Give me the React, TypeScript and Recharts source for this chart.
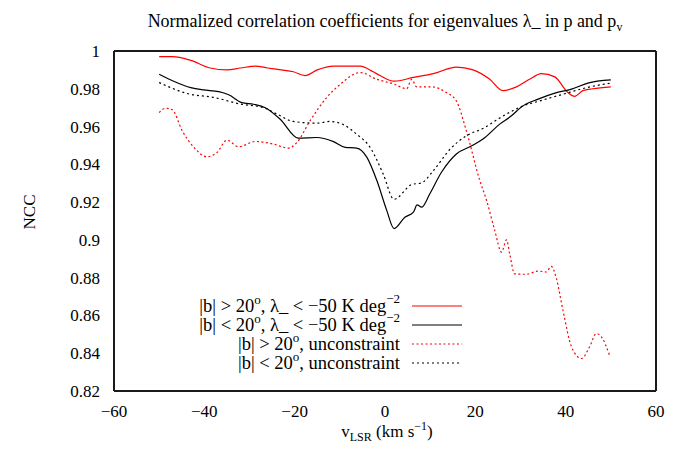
import { LineChart, Line, XAxis, YAxis } from 'recharts';

// velocity (km/s) vs normalized correlation coefficient
const highLatConstrained: [number, number][] = [
  [-50, 0.997], [-47, 0.997], [-43, 0.995], [-38.7, 0.991], [-35, 0.990],
  [-32, 0.991], [-28.7, 0.992], [-26, 0.991], [-23, 0.990], [-20.3, 0.989],
  [-17.7, 0.987], [-15, 0.990], [-11.4, 0.992], [-8.5, 0.992], [-5.5, 0.992],
  [-2.6, 0.989], [-1.1, 0.987], [2, 0.984], [6.3, 0.986], [10.7, 0.988],
  [15.8, 0.9915], [19.5, 0.990], [23.2, 0.985], [26.1, 0.979], [29.1, 0.981],
  [32, 0.985], [34.6, 0.988], [37.6, 0.9863], [40.5, 0.978], [42, 0.976],
  [43.8, 0.979], [46, 0.980], [50, 0.981],
];

const lowLatConstrained: [number, number][] = [
  [-50, 0.9877], [-46.8, 0.984], [-43, 0.9806], [-40.2, 0.9794], [-36.8, 0.9785],
  [-34.6, 0.9768], [-31.7, 0.9727], [-29.1, 0.9718], [-26.5, 0.970], [-23.2, 0.9639],
  [-19.2, 0.9539], [-15.1, 0.9542], [-11.4, 0.952], [-8.8, 0.949], [-6.3, 0.9486],
  [-4, 0.9437], [-1.8, 0.9314], [0.4, 0.9155], [2, 0.906], [4.4, 0.912],
  [6.3, 0.9147], [7.1, 0.9185], [8.1, 0.9173], [9.9, 0.9243], [12.5, 0.9358],
  [15.8, 0.9455], [19.2, 0.9498], [21.7, 0.9534], [25.4, 0.9613], [28, 0.9657],
  [30.2, 0.9704], [33.9, 0.9745], [37.6, 0.9777], [41.3, 0.9798], [44.9, 0.983],
  [50, 0.9847],
];

const highLatFree: [number, number][] = [
  [-50, 0.9674], [-48.6, 0.9697], [-47.1, 0.9689], [-44.9, 0.9578], [-42.3, 0.949],
  [-39.4, 0.944], [-37.2, 0.9463], [-35, 0.9528], [-32.4, 0.9493], [-28.7, 0.9521],
  [-24.7, 0.9507], [-21.4, 0.9486], [-19.5, 0.9516], [-16.6, 0.963], [-12.9, 0.9754],
  [-9.9, 0.9824], [-5.5, 0.9886], [-1.8, 0.985], [2, 0.9825], [4.8, 0.980],
  [5.9, 0.985], [7, 0.981], [10.3, 0.981], [13.6, 0.978], [15.8, 0.9736],
  [18, 0.9578], [21, 0.9314], [22.5, 0.9208], [24.3, 0.905], [25.8, 0.8935],
  [26.9, 0.900], [27.6, 0.8927], [28.7, 0.882], [31.3, 0.8818], [33.9, 0.8835],
  [35.7, 0.883], [36.8, 0.886], [37.9, 0.880], [39.4, 0.8627], [41.3, 0.8434],
  [43.5, 0.8372], [45.3, 0.8434], [46.8, 0.8504], [47.9, 0.8487], [49.7, 0.839],
];

const lowLatFree: [number, number][] = [
  [-50, 0.9833], [-43.8, 0.9775], [-37.9, 0.9754], [-32, 0.9719], [-26.9, 0.970],
  [-23.9, 0.9666], [-20.3, 0.9627], [-15.1, 0.9618], [-12.2, 0.9627], [-9.2, 0.961],
  [-6.3, 0.956], [-3.3, 0.949], [-0.4, 0.9349], [2, 0.9215], [5.9, 0.9293],
  [8.1, 0.9302], [10.7, 0.9366], [14.4, 0.948], [18, 0.9551], [21.7, 0.959],
  [25.4, 0.9645], [30.2, 0.9706], [34.3, 0.9736], [39.4, 0.9771], [44.6, 0.9806],
  [50, 0.983],
];

const xTicks = [-60, -40, -20, 0, 20, 40, 60];
const yTicks = [0.82, 0.84, 0.86, 0.88, 0.9, 0.92, 0.94, 0.96, 0.98, 1];

const W = 681;
const H = 450;
const LEFT = 114;
const RIGHT = 656;
const TOP = 51;
const BOTTOM = 391;
const SERIF = 'Liberation Serif';

const toRows = (pts: [number, number][]) => pts.map(([v, ncc]) => ({ v, ncc }));

const fmtX = (v: number) => (v < 0 ? `\u2212${-v}` : `${v}`);
const fmtY = (v: number) => String(Number(v.toFixed(2)));

const labelStyle = { fill: '#000', fontFamily: SERIF, fontSize: 17 };
const frame = { stroke: '#1a1a1a', strokeWidth: 2 };
const tickMark = { stroke: '#1a1a1a', strokeWidth: 1.6 };

const legendRows = [
  { sign: '>', tail: 'lambda', color: '#ff0000', dash: undefined },
  { sign: '<', tail: 'lambda', color: '#000000', dash: undefined },
  { sign: '>', tail: 'free', color: '#ff0000', dash: '2 2.5' },
  { sign: '<', tail: 'free', color: '#000000', dash: '2 3' },
];

function Overlay() {
  return (
    <svg width={W} height={H} style={{ position: 'absolute', left: 0, top: 0, pointerEvents: 'none' }}>
      <text x={385} y={27} textAnchor="middle" fontFamily={SERIF} fontSize={18} fill="#000">
        Normalized correlation coefficients for eigenvalues {'\u03bb'}_ in p and p
        <tspan dy={4} fontSize={12}>v</tspan>
      </text>
      <text x={35} y={212} textAnchor="middle" fontFamily={SERIF} fontSize={17} fill="#000" transform="rotate(-90 35 212)">
        NCC
      </text>
      <text x={387} y={437} textAnchor="middle" fontFamily={SERIF} fontSize={17} fill="#000">
        v<tspan dy={4} fontSize={12}>LSR</tspan>
        <tspan dy={-4}> (km s</tspan>
        <tspan dy={-7} fontSize={12}>{'\u22121'}</tspan>
        <tspan dy={7}>)</tspan>
      </text>
      {legendRows.map((r, i) => {
        const cy = 306 + i * 19;
        return (
          <g key={i}>
            <text x={400} y={cy + 6} textAnchor="end" fontFamily={SERIF} fontSize={18.5} fill="#000">
              |b| {r.sign} 20<tspan dy={-8} fontSize={13}>o</tspan>
              {r.tail === 'lambda' ? (
                <>
                  <tspan dy={8}>, {'\u03bb'}_ &lt; {'\u2212'}50 K deg</tspan>
                  <tspan dy={-9} fontSize={13}>{'\u22122'}</tspan>
                </>
              ) : (
                <tspan dy={8}>, unconstraint</tspan>
              )}
            </text>
            <line x1={412} x2={462} y1={cy} y2={cy} stroke={r.color} strokeWidth={1.2} strokeDasharray={r.dash} />
          </g>
        );
      })}
    </svg>
  );
}

export default function App() {
  return (
    <div style={{ position: 'absolute', left: 0, top: 0, width: W, height: H, background: '#fff' }}>
      <LineChart width={W} height={H} margin={{ top: TOP, right: W - RIGHT, bottom: H - BOTTOM - 30, left: 0 }}>
        {/* labelled bottom / left axes */}
        <XAxis
          xAxisId="bottom"
          dataKey="v"
          type="number"
          orientation="bottom"
          domain={[-60, 60]}
          ticks={xTicks}
          height={30}
          tickSize={6}
          tickMargin={8}
          axisLine={frame}
          tickLine={false}
          tick={labelStyle}
          tickFormatter={fmtX}
          allowDataOverflow
        />
        <YAxis
          yAxisId="left"
          dataKey="ncc"
          type="number"
          orientation="left"
          domain={[0.82, 1]}
          ticks={yTicks}
          width={LEFT}
          tickSize={6}
          tickMargin={8}
          axisLine={frame}
          tickLine={false}
          tick={labelStyle}
          tickFormatter={fmtY}
          allowDataOverflow
        />
        {/* inward tick marks on all four sides */}
        <XAxis xAxisId="bottomIn" dataKey="v" type="number" orientation="bottom" domain={[-60, 60]} ticks={xTicks}
          mirror tickSize={6} axisLine={frame} tickLine={tickMark} tick={false} allowDataOverflow />
        <XAxis xAxisId="top" dataKey="v" type="number" orientation="top" domain={[-60, 60]} ticks={xTicks}
          mirror tickSize={6} axisLine={frame} tickLine={tickMark} tick={false} allowDataOverflow />
        <YAxis yAxisId="leftIn" dataKey="ncc" type="number" orientation="left" domain={[0.82, 1]} ticks={yTicks}
          mirror tickSize={6} axisLine={frame} tickLine={tickMark} tick={false} allowDataOverflow />
        <YAxis yAxisId="right" dataKey="ncc" type="number" orientation="right" domain={[0.82, 1]} ticks={yTicks}
          mirror tickSize={6} axisLine={frame} tickLine={tickMark} tick={false} allowDataOverflow />
        <Line xAxisId="bottom" yAxisId="left" data={toRows(highLatConstrained)} dataKey="ncc" type="monotone" stroke="#ff0000" strokeWidth={1.2} dot={false} isAnimationActive={false} />
        <Line xAxisId="bottom" yAxisId="left" data={toRows(lowLatConstrained)} dataKey="ncc" type="monotone" stroke="#000000" strokeWidth={1.2} dot={false} isAnimationActive={false} />
        <Line xAxisId="bottom" yAxisId="left" data={toRows(highLatFree)} dataKey="ncc" type="monotone" stroke="#ff0000" strokeWidth={1.2} strokeDasharray="2 2.5" dot={false} isAnimationActive={false} />
        <Line xAxisId="bottom" yAxisId="left" data={toRows(lowLatFree)} dataKey="ncc" type="monotone" stroke="#000000" strokeWidth={1.2} strokeDasharray="2 3" dot={false} isAnimationActive={false} />
      </LineChart>
      <Overlay />
    </div>
  );
}
